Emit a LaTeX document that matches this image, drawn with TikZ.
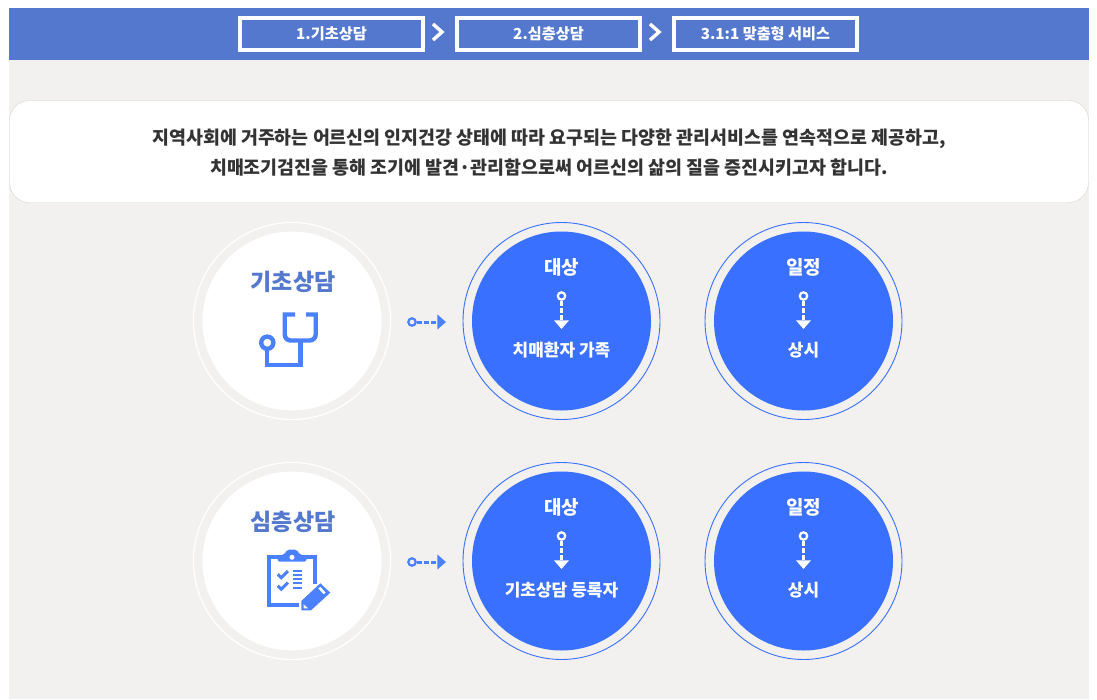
\documentclass[tikz,border=0pt]{standalone}
\usepackage{fontspec}
\setmainfont{Noto Sans CJK KR}
\usepackage{xcolor}
\usetikzlibrary{arrows.meta}
\definecolor{barblue}{HTML}{5478CE}
\definecolor{discblue}{HTML}{3A70FF}
\definecolor{iconblue}{HTML}{4B80FF}
\definecolor{pagegray}{HTML}{F2F1EF}
\definecolor{textdark}{HTML}{333333}
\tikzset{
    stepbox/.style={draw=white,line width=4pt,fill=barblue,text=white,minimum width=183pt,minimum height=32pt,inner sep=0pt,font=\fontsize{15.2}{15}\selectfont\bfseries},
    stepmark/.style={draw=white,line width=3.4pt,line join=miter},
    intro/.style={text=textdark,font=\fontsize{18.4}{30}\selectfont\bfseries,align=center},
    iconline/.style={draw=iconblue,line width=4.4pt},
    ringdot/.style={circle,draw=#1,line width=2.2pt,minimum size=7.4pt,inner sep=0pt},
    linkline/.style={draw=#1,line width=3pt,dash pattern=on 4.7pt off 2.5pt,-{Triangle[length=8.7pt,width=14.6pt,#1]}},
    disctitle/.style={text=white,font=\fontsize{19}{19}\selectfont\bfseries},
    disctext/.style={text=white,font=\fontsize{17}{17}\selectfont\bfseries},
    headtext/.style={text=barblue,font=\fontsize{23}{23}\selectfont\bfseries}
}
\newcommand{\whitedisc}[3]{
\begin{scope}[shift={(292,#1)}]
    \draw[white,line width=1.2pt] (0,0) circle (98.5);
    \fill[white] (0,0) circle (89.5);
    \node[headtext] (#2) at (1,-39) {#3};
\end{scope}
}
\newcommand{\bluedisc}[5]{
\begin{scope}[shift={(#1,#2)}]
    \draw[discblue,line width=0.9pt] (0,0) circle (98.5);
    \fill[discblue] (0,0) circle (89.5);
    \node[disctitle] (#3title) at (0,-54) {#4};
    \node[ringdot=white] (#3ring) at (0,-25) {};
    \coordinate (#3tip) at (0,8);
    \draw[linkline=white] (#3ring) -- (#3tip);
    \node[disctext] (#3text) at (0,29) {#5};
\end{scope}
}
\newcommand{\rowlink}[2]{
    \node[ringdot=iconblue] (#2ring) at (412,#1) {};
    \coordinate (#2tip) at (446,#1);
    \draw[linkline=iconblue] (#2ring) -- (#2tip);
}
\begin{document}
\begin{tikzpicture}[x=1pt,y=-1pt]
    \useasboundingbox (0,0) rectangle (1097,699);
    \fill[white] (0,0) rectangle (1097,699);
    \fill[pagegray] (9,8) rectangle (1089,699);
    \fill[barblue] (9,8) rectangle (1089,60);
    \node[stepbox] (stepone) at (331.5,34) {1.기초상담};
    \node[stepbox] (steptwo) at (548.5,34) {2.심층상담};
    \node[stepbox] (stepthree) at (765.5,34) {3.1:1 맞춤형 서비스};
    \draw[stepmark] (433,24) -- (442,32) -- (433,40);
    \draw[stepmark] (650,24) -- (659,32) -- (650,40);
    \draw[draw=black!16,fill=white,rounded corners=20pt] (9.5,100.5) rectangle (1088.5,202.5);
    \node[intro] (introtext) at (549,153) {지역사회에 거주하는 어르신의 인지건강 상태에 따라 요구되는 다양한 관리서비스를 연속적으로 제공하고,\\치매조기검진을 통해 조기에 발견·관리함으로써 어르신의 삶의 질을 증진시키고자 합니다.};
    \whitedisc{321}{headone}{기초상담}
    \whitedisc{561}{headtwo}{심층상담}
    \rowlink{322}{linkone}
    \rowlink{562}{linktwo}
    \bluedisc{561.5}{321}{targetone}{대상}{치매환자 가족}
    \bluedisc{803.5}{321}{planone}{일정}{상시}
    \bluedisc{561.5}{561}{targettwo}{대상}{기초상담 등록자}
    \bluedisc{803.5}{561}{plantwo}{일정}{상시}
    % stethoscope
    \draw[iconline] (295,314.5) -- (284.7,314.5) [rounded corners=6pt] -- (284.7,340.5) -- (315.7,340.5) [sharp corners] -- (315.7,314.5) -- (306,314.5);
    \draw[iconline] (300.5,340.5) -- (300.5,364.8) -- (267,364.8) -- (267,349);
    \draw[iconline] (267.3,342.7) circle (6.1);
    % clipboard
    \draw[iconline] (299.3,605) -- (268.9,605) -- (268.9,557) -- (314.7,557) -- (314.7,584);
    \fill[iconblue,rounded corners=2pt] (277.5,561.5) -- (277.5,555) -- (284,555) -- (287,549.7) -- (297,549.7) -- (300,555) -- (306.5,555) -- (306.5,561.5) -- cycle;
    \fill[white] (292,557.3) circle (2.5);
    \foreach \y in {0,11.5} \draw[draw=iconblue,line width=3pt] (277.7,574.3+\y) -- (281.3,577.7+\y) -- (288,571+\y);
    \foreach \y in {570.7,575,579.3,583.3,587.7} \draw[draw=iconblue,line width=2pt] (292.7,\y) -- (302,\y);
    \fill[iconblue] (301.3,610.3) -- (301.3,601) -- (320.3,583.3) -- (330.3,592.7) -- (311,610.3) -- cycle;
    \draw[white,line width=2.5pt] (319.3,587.7) -- (324.7,593.3);
    \fill[white] (303.7,608.3) -- (303.7,604.3) -- (308,608.3) -- cycle;
\end{tikzpicture}
\end{document}
